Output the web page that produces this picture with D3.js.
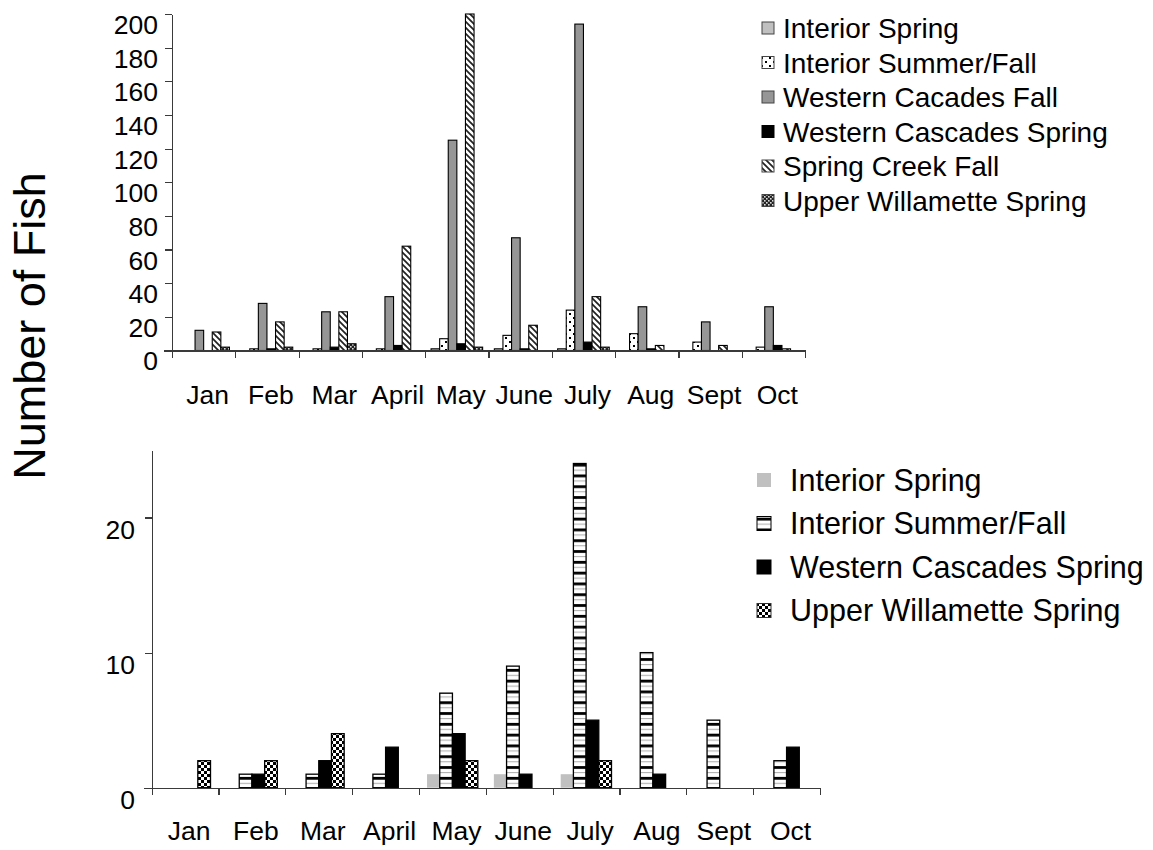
<!DOCTYPE html>
<html>
<head>
<meta charset="utf-8">
<script src="https://cdn.jsdelivr.net/npm/d3@7"></script>
<style>
    body { margin: 0; background: #fff; }
    text { font-family: "Liberation Sans", Arial, sans-serif; fill: #000; }
    .axis path, .axis line { stroke: #3a3a3a; stroke-width: 1.2; shape-rendering: crispEdges; }
</style>
</head>
<body>
<div id="chart"></div>
<script>
// Data
const months = ['Jan', 'Feb', 'Mar', 'April', 'May', 'June', 'July', 'Aug', 'Sept', 'Oct'];

const interiorSpring        = [0, 0, 0, 0, 1, 1, 1, 0, 0, 0];
const interiorSummerFall    = [0, 1, 1, 1, 7, 9, 24, 10, 5, 2];
const westernCascadesFall   = [12, 28, 23, 32, 125, 67, 194, 26, 17, 26];
const westernCascadesSpring = [0, 1, 2, 3, 4, 1, 5, 1, 0, 3];
const springCreekFall       = [11, 17, 23, 62, 200, 15, 32, 3, 3, 1];
const upperWillametteSpring = [2, 2, 4, 0, 2, 0, 2, 0, 0, 0];

const topNames = ['Interior Spring', 'Interior Summer/Fall', 'Western Cacades Fall',
    'Western Cascades Spring', 'Spring Creek Fall', 'Upper Willamette Spring'];
const bottomNames = ['Interior Spring', 'Interior Summer/Fall',
    'Western Cascades Spring', 'Upper Willamette Spring'];

const topTicks = [0, 20, 40, 60, 80, 100, 120, 140, 160, 180, 200];
const bottomTicks = [0, 10, 20];

const W = 1153, H = 850;

const svg = d3.select('#chart')
    .append('svg')
    .attr('width', W)
    .attr('height', H);

svg.append('rect').attr('width', W).attr('height', H).attr('fill', '#fff');

// Patterns
const defs = svg.append('defs');

const dots = defs.append('pattern').attr('id', 'dots')
    .attr('patternUnits', 'userSpaceOnUse').attr('width', 8).attr('height', 8);
dots.append('rect').attr('width', 8).attr('height', 8).attr('fill', '#fff');
dots.append('rect').attr('x', 1).attr('y', 1).attr('width', 2).attr('height', 2).attr('fill', '#000');
dots.append('rect').attr('x', 5).attr('y', 5).attr('width', 2).attr('height', 2).attr('fill', '#000');

const diag = defs.append('pattern').attr('id', 'diag')
    .attr('patternUnits', 'userSpaceOnUse').attr('width', 6).attr('height', 6);
diag.append('rect').attr('width', 6).attr('height', 6).attr('fill', '#fff');
diag.append('path').attr('d', 'M0,0 L6,6 M-1,5 L1,7 M5,-1 L7,1')
    .attr('stroke', '#222').attr('stroke-width', 1.7);

const checkTop = defs.append('pattern').attr('id', 'checkTop')
    .attr('patternUnits', 'userSpaceOnUse').attr('width', 4).attr('height', 4);
checkTop.append('rect').attr('width', 4).attr('height', 4).attr('fill', '#222');
checkTop.append('rect').attr('x', 0).attr('y', 0).attr('width', 1.6).attr('height', 1.6).attr('fill', '#ddd');
checkTop.append('rect').attr('x', 2).attr('y', 2).attr('width', 1.6).attr('height', 1.6).attr('fill', '#ddd');

const checkBot = defs.append('pattern').attr('id', 'checkBot')
    .attr('patternUnits', 'userSpaceOnUse').attr('width', 6).attr('height', 6);
checkBot.append('rect').attr('width', 6).attr('height', 6).attr('fill', '#000');
checkBot.append('rect').attr('x', 0).attr('y', 0).attr('width', 3).attr('height', 3).attr('fill', '#fff');
checkBot.append('rect').attr('x', 3).attr('y', 3).attr('width', 3).attr('height', 3).attr('fill', '#fff');

const hstripe = defs.append('pattern').attr('id', 'hstripe')
    .attr('patternUnits', 'userSpaceOnUse').attr('width', 4).attr('height', 10.8)
    .attr('patternTransform', 'translate(0,787.7)');
hstripe.append('rect').attr('width', 4).attr('height', 10.8).attr('fill', '#fff');
hstripe.append('rect').attr('y', 0).attr('width', 4).attr('height', 2.8).attr('fill', '#000');
hstripe.append('rect').attr('y', 6).attr('width', 4).attr('height', 1).attr('fill', '#aaa');

// Series styles
const topStyle = [
    { data: interiorSpring, fill: '#c0c0c0', stroke: '#000' },
    { data: interiorSummerFall, fill: 'url(#dots)', stroke: '#000' },
    { data: westernCascadesFall, fill: '#969696', stroke: '#000' },
    { data: westernCascadesSpring, fill: '#000', stroke: '#000' },
    { data: springCreekFall, fill: 'url(#diag)', stroke: '#000' },
    { data: upperWillametteSpring, fill: 'url(#checkTop)', stroke: '#000' }
];
const bottomStyle = [
    { data: interiorSpring, fill: '#c0c0c0', stroke: 'none' },
    { data: interiorSummerFall, fill: 'url(#hstripe)', stroke: '#000' },
    { data: westernCascadesSpring, fill: '#000', stroke: '#000' },
    { data: upperWillametteSpring, fill: 'url(#checkBot)', stroke: '#000' }
];

function drawChart(cfg) {
    const g = svg.append('g');

    const x0 = d3.scaleBand()
        .domain(months)
        .range([cfg.left, cfg.right])
        .paddingInner(cfg.pad)
        .paddingOuter(cfg.pad / 2);

    const x1 = d3.scaleBand()
        .domain(d3.range(cfg.series.length))
        .range([0, x0.bandwidth()]);

    const y = d3.scaleLinear()
        .domain([0, cfg.max])
        .range([cfg.bottom, cfg.top]);

    const edge = d3.scaleLinear()
        .domain([0, months.length])
        .range([cfg.left, cfg.right]);

    // Bars
    cfg.series.forEach((s, si) => {
        g.append('g')
            .selectAll('rect')
            .data(s.data.map((v, i) => ({ v, m: months[i] })).filter(d => d.v > 0))
            .enter()
            .append('rect')
            .attr('x', d => x0(d.m) + x1(si))
            .attr('y', d => y(d.v))
            .attr('width', x1.bandwidth())
            .attr('height', d => y(0) - y(d.v))
            .attr('fill', s.fill)
            .attr('stroke', s.stroke)
            .attr('stroke-width', cfg.barStroke);
    });

    // Y axis
    const yAxis = g.append('g')
        .attr('class', 'axis')
        .attr('transform', `translate(${cfg.left},0)`)
        .call(d3.axisLeft(y).tickValues(cfg.ticks).tickSize(7).tickSizeOuter(0));
    yAxis.selectAll('text')
        .attr('x', cfg.labelX - cfg.left)
        .attr('y', cfg.labelDrop)
        .style('font-size', cfg.fontSize + 'px')
        .style('font-family', '"Liberation Sans", Arial, sans-serif');

    // X axis with ticks on category boundaries
    const xAxis = g.append('g')
        .attr('class', 'axis')
        .attr('transform', `translate(0,${cfg.bottom})`)
        .call(d3.axisBottom(edge).tickValues(d3.range(months.length + 1))
            .tickFormat('').tickSize(7).tickSizeOuter(0));
    xAxis.append('line')
        .attr('x1', cfg.left - 8).attr('x2', cfg.left)
        .attr('y1', 0.5).attr('y2', 0.5);

    g.append('g')
        .selectAll('text')
        .data(months)
        .enter()
        .append('text')
        .attr('x', d => x0(d) + x0.bandwidth() / 2 + 4)
        .attr('y', cfg.monthY)
        .attr('text-anchor', 'middle')
        .style('font-size', cfg.fontSize + 'px')
        .text(d => d);

    // Legend
    const legend = g.append('g');
    cfg.names.forEach((name, i) => {
        const cy = cfg.legendY + i * cfg.legendGap;
        legend.append('rect')
            .attr('x', cfg.legendX)
            .attr('y', cy - cfg.sw / 2)
            .attr('width', cfg.sw)
            .attr('height', cfg.sw)
            .attr('fill', cfg.series[i].fill)
            .attr('stroke', cfg.legendStroke[i])
            .attr('stroke-width', 1);
        legend.append('text')
            .attr('x', cfg.legendX + cfg.textGap)
            .attr('y', cy)
            .attr('dy', '0.36em')
            .style('font-size', cfg.legendFont + 'px')
            .text(name);
    });
}

drawChart({
    series: topStyle,
    names: topNames,
    left: 172, right: 805, top: 14, bottom: 350.5,
    max: 200, ticks: topTicks, pad: 0.185,
    barStroke: 1.1,
    labelX: 158, labelDrop: 11, fontSize: 26.5, monthY: 404,
    legendX: 762, legendY: 28, legendGap: 34.5, sw: 12, textGap: 21,
    legendFont: 28,
    legendStroke: ['#444', '#444', '#444', '#000', '#444', '#444']
});

drawChart({
    series: bottomStyle,
    names: bottomNames,
    left: 151.7, right: 820, top: 450, bottom: 787.7,
    max: 25, ticks: bottomTicks, pad: 0.24,
    barStroke: 1.3,
    labelX: 135, labelDrop: 12, fontSize: 26.5, monthY: 840,
    legendX: 757, legendY: 480, legendGap: 43.5, sw: 14, textGap: 33,
    legendFont: 30.5,
    legendStroke: ['none', '#000', '#000', '#333']
});

// Shared y-axis title
svg.append('text')
    .attr('transform', 'translate(45,326) rotate(-90)')
    .attr('text-anchor', 'middle')
    .style('font-size', '45px')
    .text('Number of Fish');
</script>
</body>
</html>
